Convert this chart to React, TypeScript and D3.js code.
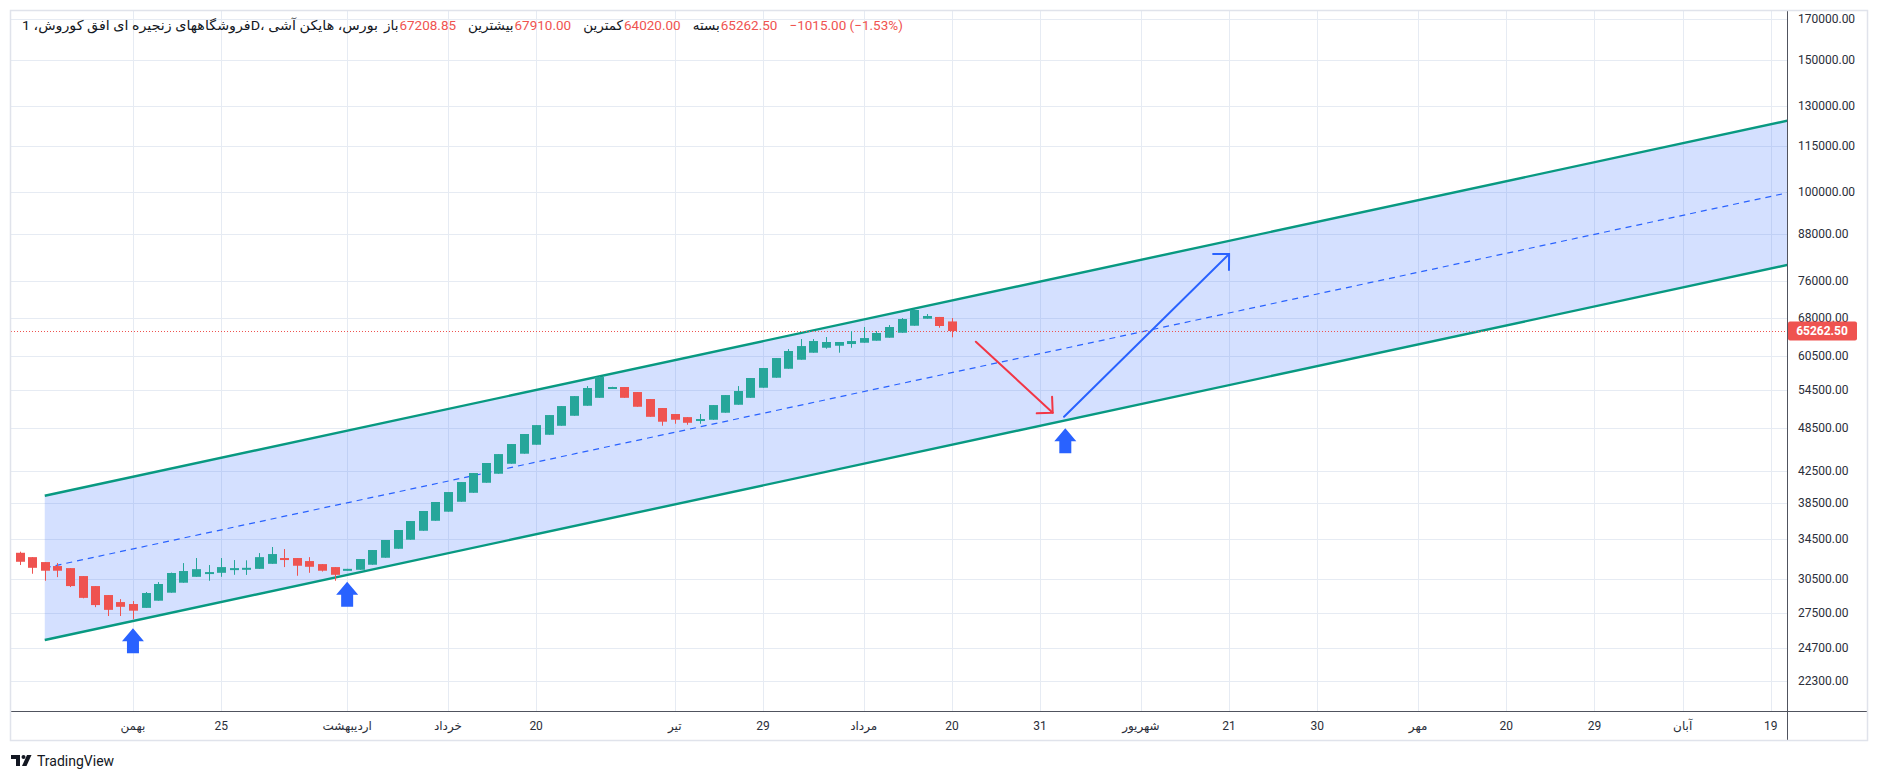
import React, { useEffect, useRef } from 'react';
import * as d3 from 'd3';

const W = 1879;
const H = 781;

// Heikin Ashi candles (bar index 0..74)
const OPEN = [
  33050, 32610, 32120, 31730, 31530, 30770, 29840, 29030, 28410, 28240,
  27910, 28530, 29240, 30150, 30700, 30990, 31080, 31360, 31400, 31460,
  31950, 32520, 32520, 32220, 31920, 31630, 31280, 31370, 31860, 32550,
  33460, 34400, 35360, 36460, 37490, 38650, 39730, 40970, 42120, 43430,
  44790, 46040, 47470, 48800, 50320, 51890, 53170, 54900, 54960, 54120,
  52970, 51530, 50590, 50110, 49620, 49710, 50790, 52050, 53170, 54840,
  56550, 58130, 59760, 61060, 62000, 62380, 62710, 62960, 63350, 63935,
  64920, 66330, 67770, 68140.2, 67208.85,
];
const HIGH = [
  33160, 32610, 32120, 32020, 31530, 30770, 29840, 29030, 28670, 28500,
  29300, 30210, 31100, 32020, 32520, 31830, 32520, 32320, 32290, 33020,
  33640, 33430, 32520, 32610, 31920, 31630, 31460, 32420, 33330, 34370,
  35440, 36430, 37570, 38620, 39820, 41060, 42210, 43530, 44740, 46140,
  47580, 48900, 50430, 51840, 53450, 55120, 56840, 55000, 54960, 54120,
  52970, 51530, 50590, 50110, 50590, 52000, 53620, 55120, 56500, 58260,
  60070, 61760, 63680, 63680, 64070, 63100, 65250, 66070, 65260, 66470,
  67920, 69820, 68760, 68140.2, 67910,
];
const LOW = [
  31830, 30990, 30330, 30670, 29750, 28740, 27970, 27220, 27220, 26960,
  27910, 28530, 29240, 30150, 30700, 30330, 30700, 30890, 30880, 31460,
  31950, 31630, 30800, 31080, 31200, 30330, 31280, 31370, 31860, 32550,
  33460, 34400, 35360, 36460, 37490, 38650, 39730, 40970, 42120, 43430,
  44790, 46040, 47470, 48800, 50320, 51890, 53170, 54900, 53170, 51730,
  50160, 48800, 49100, 48950, 49100, 49710, 50790, 52050, 53170, 54840,
  56550, 58130, 59760, 61060, 61810, 61060, 62000, 62960, 63350, 63935,
  64920, 66330, 67770, 65930, 64020,
];
const CLOSE = [
  32150, 31560, 31280, 31280, 29840, 28780, 28150, 27740, 28000, 27670,
  29210, 30030, 31060, 31250, 31430, 31150, 31630, 31530, 31560, 32610,
  32920, 32470, 31760, 31660, 31280, 30890, 31460, 32420, 33330, 34370,
  35440, 36430, 37570, 38620, 39820, 41060, 42210, 43530, 44740, 46140,
  47580, 48900, 50430, 51840, 53450, 54790, 56670, 54960, 53170, 51730,
  50160, 49410, 49710, 49250, 49820, 52000, 53620, 54290, 56500, 58260,
  60070, 61380, 62320, 63290, 63100, 63100, 63290, 63870, 64870, 66070,
  67710, 69610, 68340, 66277.5, 65262.5,
];

const TIME_TICKS = [9, 16, 26, 34, 41, 52, 59, 67, 74, 81, 89, 96, 103, 111, 118, 125, 132, 139];
const TIME_LABELS = [
  'بهمن', '25', 'اردیبهشت', 'خرداد', '20', 'تیر', '29', 'مرداد', '20',
  '31', 'شهریور', '21', '30', 'مهر', '20', '29', 'آبان', '19',
];
const PRICE_TICKS = [
  170000, 150000, 130000, 115000, 100000, 88000, 76000, 68000, 60500,
  54500, 48500, 42500, 38500, 34500, 30500, 27500, 24700, 22300,
];

// parallel channel: two anchor bars, upper and lower prices
const CHANNEL_IDX = [2, 141];
const CHANNEL_UPPER = [39370, 125150];
const CHANNEL_LOWER = [25290, 80390];

// drawn arrows (bar index, price)
const RED_ARROW_IDX = [75.9, 82];
const RED_ARROW_PRICE = [63150, 50790];
const BLUE_ARROW_IDX = [82.9, 96];
const BLUE_ARROW_PRICE = [50160, 82650];
const MARKER_IDX = [9, 26, 83];
const MARKER_PRICE = [26210, 30240, 48420];

const TITLE = 'فروشگاههای زنجیره ای افق کوروش، 1D، بورس، هایکن آشی';
const LEGEND_LABELS = ['باز', 'بیشترین', 'کمترین', 'بسته'];

const UP = '#26a69a';
const DOWN = '#ef5350';
const FONT = "Roboto, 'DejaVu Sans', sans-serif";

const App: React.FC = () => {
  const svgRef = useRef<SVGSVGElement>(null);

  useEffect(() => {
    if (!svgRef.current) return;
    const svg = d3.select(svgRef.current);
    svg.selectAll('*').remove();

    const pane = { left: 11, top: 11, right: 1787, bottom: 711 };
    const frame = { right: 1867, bottom: 740 };

    const x = d3.scaleLinear().domain([-0.68, 140.28]).range([pane.left, pane.right]);
    const y = d3.scaleLog().domain([22300, 170000]).range([681, 19]);

    svg.append('rect').attr('width', W).attr('height', H).attr('fill', '#fff');

    svg.append('defs').append('clipPath').attr('id', 'pane')
      .append('rect')
      .attr('x', pane.left).attr('y', pane.top)
      .attr('width', pane.right - pane.left).attr('height', pane.bottom - pane.top);

    // grid
    const grid = svg.append('g').attr('stroke', '#e6ebf3').attr('stroke-width', 1);
    TIME_TICKS.forEach(t => {
      grid.append('line')
        .attr('x1', Math.round(x(t)) + 0.5).attr('x2', Math.round(x(t)) + 0.5)
        .attr('y1', pane.top).attr('y2', pane.bottom);
    });
    PRICE_TICKS.forEach(p => {
      grid.append('line')
        .attr('x1', pane.left).attr('x2', pane.right)
        .attr('y1', Math.round(y(p)) + 0.5).attr('y2', Math.round(y(p)) + 0.5);
    });

    const plot = svg.append('g').attr('clip-path', 'url(#pane)');

    // channel
    const up = CHANNEL_IDX.map((d, i) => [x(d), y(CHANNEL_UPPER[i])] as [number, number]);
    const lo = CHANNEL_IDX.map((d, i) => [x(d), y(CHANNEL_LOWER[i])] as [number, number]);
    const mid = CHANNEL_IDX.map((d, i) => [
      x(d),
      y(Math.sqrt(CHANNEL_UPPER[i] * CHANNEL_LOWER[i])),
    ] as [number, number]);
    const line = d3.line();

    plot.append('path')
      .attr('d', line([up[0], up[1], lo[1], lo[0]]) + 'Z')
      .attr('fill', 'rgba(41, 98, 255, 0.2)');
    plot.append('path').attr('d', line(mid))
      .attr('fill', 'none').attr('stroke', '#2962ff').attr('stroke-width', 1.2)
      .attr('stroke-dasharray', '6 5');
    [up, lo].forEach(pts => {
      plot.append('path').attr('d', line(pts))
        .attr('fill', 'none').attr('stroke', '#089981').attr('stroke-width', 2.4);
    });

    // last price line
    const last = CLOSE.length - 1;
    const lastY = Math.round(y(CLOSE[last])) + 0.5;
    plot.append('line')
      .attr('x1', pane.left).attr('x2', pane.right)
      .attr('y1', lastY).attr('y2', lastY)
      .attr('stroke', DOWN).attr('stroke-width', 1).attr('stroke-dasharray', '1 2');

    // candles
    const bodyW = 9;
    CLOSE.forEach((c, i) => {
      const o = OPEN[i];
      const color = c >= o ? UP : DOWN;
      const cx = Math.round(x(i)) + 0.5;
      plot.append('line')
        .attr('x1', cx).attr('x2', cx)
        .attr('y1', y(HIGH[i])).attr('y2', y(LOW[i]))
        .attr('stroke', color).attr('stroke-width', 1);
      const top = y(Math.max(o, c));
      const h = Math.max(2, y(Math.min(o, c)) - top);
      plot.append('rect')
        .attr('x', cx - bodyW / 2).attr('y', top)
        .attr('width', bodyW).attr('height', h)
        .attr('fill', color);
    });

    // trend arrows
    const drawArrow = (idx: number[], price: number[], color: string) => {
      const x1 = x(idx[0]); const y1 = y(price[0]);
      const x2 = x(idx[1]); const y2 = y(price[1]);
      const back = Math.atan2(y1 - y2, x1 - x2);
      const len = 16;
      const w1 = [x2 + len * Math.cos(back + Math.PI / 4), y2 + len * Math.sin(back + Math.PI / 4)] as [number, number];
      const w2 = [x2 + len * Math.cos(back - Math.PI / 4), y2 + len * Math.sin(back - Math.PI / 4)] as [number, number];
      const g = plot.append('g').attr('stroke', color).attr('stroke-width', 2)
        .attr('fill', 'none').attr('stroke-linecap', 'round').attr('stroke-linejoin', 'round');
      g.append('path').attr('d', line([[x1, y1], [x2, y2]]));
      g.append('path').attr('d', line([w1, [x2, y2], w2]));
    };
    drawArrow(RED_ARROW_IDX, RED_ARROW_PRICE, '#f23645');
    drawArrow(BLUE_ARROW_IDX, BLUE_ARROW_PRICE, '#2962ff');

    // up markers
    MARKER_IDX.forEach((m, i) => {
      const mx = x(m);
      const my = y(MARKER_PRICE[i]);
      const pts: [number, number][] = [
        [mx, my], [mx + 11, my + 13], [mx + 6, my + 13], [mx + 6, my + 25],
        [mx - 6, my + 25], [mx - 6, my + 13], [mx - 11, my + 13],
      ];
      plot.append('path').attr('d', line(pts) + 'Z').attr('fill', '#2962ff');
    });

    // axes
    const axisColor = '#50535e';
    svg.append('line')
      .attr('x1', pane.right + 0.5).attr('x2', pane.right + 0.5)
      .attr('y1', pane.top).attr('y2', frame.bottom)
      .attr('stroke', axisColor).attr('stroke-width', 1);
    svg.append('line')
      .attr('x1', pane.left).attr('x2', frame.right)
      .attr('y1', pane.bottom + 0.5).attr('y2', pane.bottom + 0.5)
      .attr('stroke', axisColor).attr('stroke-width', 1);

    PRICE_TICKS.forEach(p => {
      svg.append('text')
        .attr('x', pane.right + 11).attr('y', y(p))
        .attr('dominant-baseline', 'central')
        .attr('font-family', FONT).attr('font-size', 12).attr('fill', '#2a2e39')
        .text(p.toFixed(2));
    });

    TIME_TICKS.forEach((t, i) => {
      svg.append('text')
        .attr('x', x(t)).attr('y', 726)
        .attr('text-anchor', 'middle').attr('dominant-baseline', 'central')
        .attr('font-family', FONT).attr('font-size', 12).attr('fill', '#2a2e39')
        .text(TIME_LABELS[i]);
    });

    // last price tag
    const tagY = y(CLOSE[last]);
    svg.append('rect')
      .attr('x', pane.right + 1).attr('y', tagY - 9.5)
      .attr('width', 69).attr('height', 19).attr('rx', 2)
      .attr('fill', DOWN);
    svg.append('text')
      .attr('x', pane.right + 35).attr('y', tagY)
      .attr('text-anchor', 'middle').attr('dominant-baseline', 'central')
      .attr('font-family', FONT).attr('font-size', 12).attr('font-weight', 700)
      .attr('fill', '#fff')
      .text(CLOSE[last].toFixed(2));

    // frame
    svg.append('rect')
      .attr('x', pane.left - 0.5).attr('y', pane.top - 0.5)
      .attr('width', frame.right - pane.left + 1).attr('height', frame.bottom - pane.top + 1)
      .attr('fill', 'none').attr('stroke', '#e0e3eb').attr('stroke-width', 1.5);

    // legend
    const values = [OPEN[last], HIGH[last], LOW[last], CLOSE[last]];
    const change = CLOSE[last] - CLOSE[last - 1];
    const pct = (change / CLOSE[last - 1]) * 100;
    const minus = (v: number) => (v < 0 ? '\u2212' : '') + Math.abs(v).toFixed(2);
    let cursor = 22;
    const put = (text: string, color: string, gap: number, width?: number) => {
      const t = svg.append('text')
        .attr('x', cursor).attr('y', 25)
        .attr('dominant-baseline', 'central')
        .attr('font-family', FONT).attr('font-size', 13.5).attr('fill', color)
        .text(text);
      if (width) t.attr('textLength', width).attr('lengthAdjust', 'spacingAndGlyphs');
      const node = t.node() as SVGTextElement;
      cursor += (width ?? node.getComputedTextLength()) + gap;
    };
    put(TITLE, '#131722', 6, 356);
    LEGEND_LABELS.forEach((lab, i) => {
      put(lab, '#131722', 1);
      put(values[i].toFixed(2), DOWN, 12);
    });
    put(`${minus(change)} (${minus(pct)}%)`, DOWN, 0);

    // TradingView mark
    const logo = svg.append('g').attr('fill', '#131722');
    logo.append('rect').attr('x', 11).attr('y', 755).attr('width', 9).attr('height', 4);
    logo.append('rect').attr('x', 16).attr('y', 755).attr('width', 4).attr('height', 11);
    logo.append('circle').attr('cx', 23.5).attr('cy', 757).attr('r', 2);
    logo.append('path').attr('d', 'M27,755 L31.5,755 L26.5,766 L22,766 Z');
    svg.append('text')
      .attr('x', 37).attr('y', 761)
      .attr('dominant-baseline', 'central')
      .attr('font-family', FONT).attr('font-size', 14).attr('fill', '#131722')
      .text('TradingView');
  }, []);

  return (
    <svg
      ref={svgRef}
      width={W}
      height={H}
      style={{ position: 'fixed', left: 0, top: 0, display: 'block' }}
    />
  );
};

export default App;
